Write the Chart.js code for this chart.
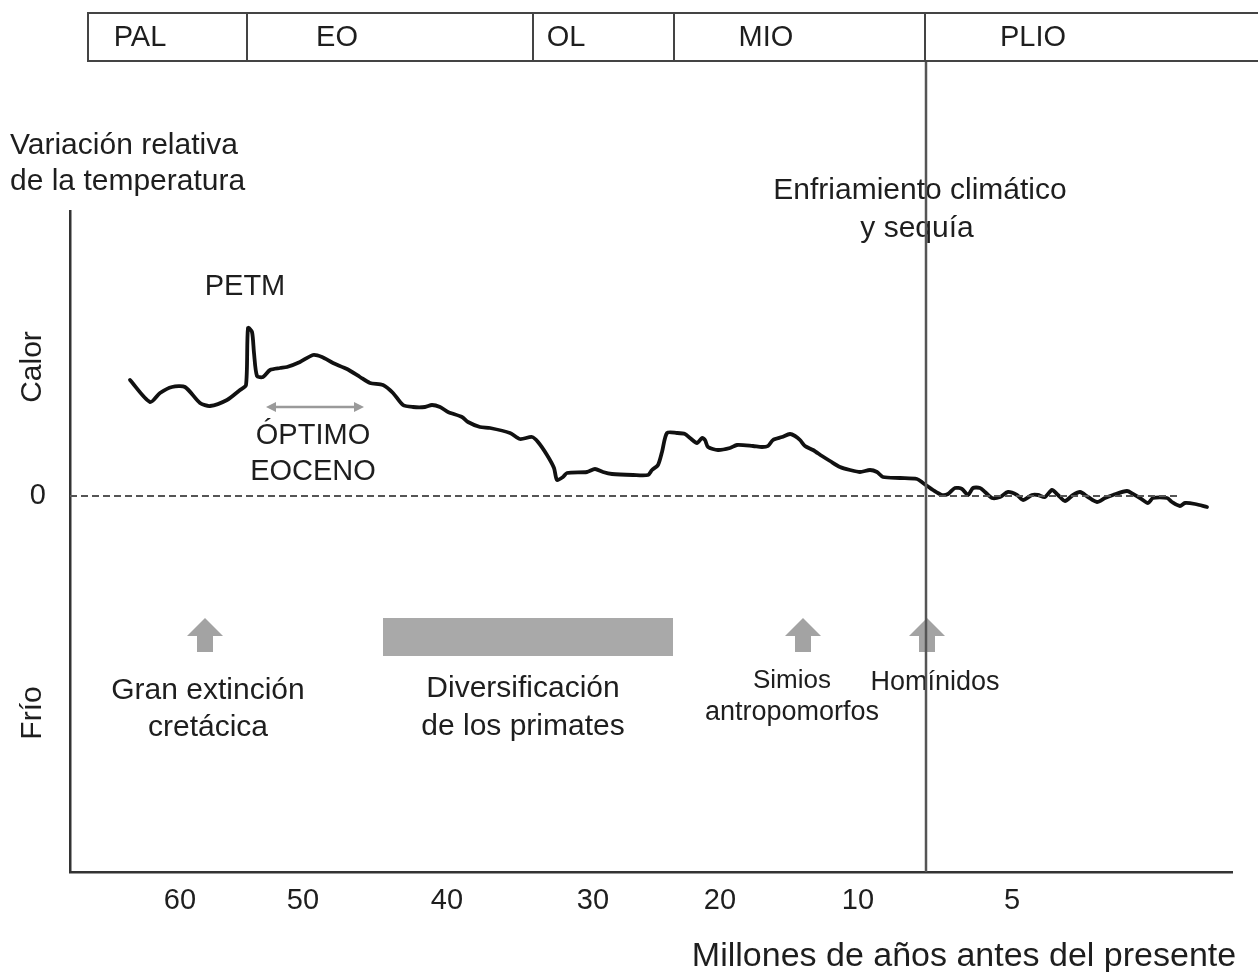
<!DOCTYPE html>
<html><head><meta charset="utf-8">
<script src="https://cdn.jsdelivr.net/npm/chart.js@4"></script>
<style>html,body{margin:0;padding:0;background:#fff}#wrap{width:1258px;height:972px;position:relative}</style>
</head><body><div id="wrap"><canvas id="c" width="1258" height="972"></canvas></div>
<script>
// Relative temperature curve (x: schematic position along time axis, y: relative temperature)
const curveX=[6.0,8.0,9.0,10.2,11.5,13.0,14.0,15.7,17.0,17.6,17.8,18.2,18.4,18.7,19.3,20.0,21.0,21.7,23.0,24.3,25.2,26.3,27.7,29.0,30.0,31.3,32.3,33.3,34.3,35.5,36.2,37.0,37.8,39.2,39.8,41.0,42.0,44.0,45.0,46.2,46.8,47.7,48.4,48.7,49.3,49.7,51.7,52.5,53.3,54.2,56.3,57.8,58.2,58.8,59.2,59.7,60.7,61.5,62.0,62.7,63.2,63.5,63.8,64.8,66.0,66.7,68.3,69.2,69.8,70.3,71.2,72.0,72.5,73.0,73.5,74.3,75.2,76.0,77.0,78.0,79.0,80.0,80.7,81.3,83.0,84.7,85.3,86.3,87.2,87.8,88.5,89.2,89.8,90.3,91.0,91.5,92.2,93.0,93.8,94.7,95.3,96.2,96.8,97.5,98.2,98.8,99.5,100.3,101.0,101.8,102.7,103.5,104.3,105.7,106.3,107.0,107.8,108.3,109.7,110.2,111.0,111.5,112.5,113.7];
const curveY=[1.16,0.94,1.03,1.09,1.09,0.93,0.90,0.96,1.06,1.11,1.68,1.64,1.43,1.20,1.19,1.26,1.28,1.29,1.34,1.41,1.39,1.33,1.27,1.19,1.13,1.11,1.03,0.91,0.89,0.89,0.91,0.89,0.84,0.79,0.74,0.69,0.68,0.63,0.57,0.59,0.54,0.41,0.28,0.16,0.19,0.23,0.24,0.27,0.24,0.22,0.21,0.21,0.26,0.31,0.44,0.63,0.63,0.62,0.58,0.53,0.58,0.56,0.49,0.46,0.48,0.51,0.50,0.49,0.50,0.56,0.59,0.62,0.60,0.56,0.50,0.46,0.40,0.35,0.29,0.26,0.24,0.26,0.24,0.19,0.18,0.17,0.13,0.06,0.01,0.02,0.08,0.07,0.01,0.08,0.08,0.04,-0.02,-0.01,0.04,0.01,-0.04,0.01,0.01,-0.01,0.06,0.01,-0.05,0.01,0.04,-0.01,-0.06,-0.02,0.01,0.05,0.02,-0.02,-0.07,-0.02,-0.02,-0.06,-0.10,-0.07,-0.08,-0.11];
// Zero reference line
const zeroX=[0,110.8];
const zeroY=[0,0];
// Time axis tick labels (millions of years before present) and their positions
const tickPos=[11.0,23.3,37.7,52.3,65.0,78.8,94.2];
const tickLabels=['60','50','40','30','20','10','5'];
// Epochs
const epochNames=['PAL','EO','OL','MIO','PLIO'];
const epochLabelPos=[7.0,26.7,49.6,69.6,96.3];
const epochBounds=[1.8,17.7,46.3,60.4,85.5,120];
// Events
const coolingPos=85.6;
const primateRange=[31.3,60.3];
const arrowPos=[13.5,73.3,85.7];

const FONT='"Liberation Sans", Arial, Helvetica, sans-serif';
const TXT='#1e1e1e';

const annot={
  id:'annot',
  afterDatasetsDraw(chart){
    const {ctx,scales:{x,y},chartArea:ca}=chart;
    const X=v=>x.getPixelForValue(v);
    ctx.save();
    ctx.fillStyle=TXT;ctx.textBaseline='middle';
    function t(s,px,py,size,align){ctx.font=size+'px '+FONT;ctx.textAlign=align||'center';ctx.fillText(s,px,py);}
    // axis titles
    t('Variación relativa',10,146,30,'left');
    t('de la temperatura',10,182,30,'left');
    ctx.save();ctx.translate(33,367);ctx.rotate(-Math.PI/2);t('Calor',0,0,30);ctx.restore();
    ctx.save();ctx.translate(33,713);ctx.rotate(-Math.PI/2);t('Frío',0,0,30);ctx.restore();
    t('Millones de años antes del presente',964,957,34);
    // curve labels
    t('PETM',245,287,29);
    t('ÓPTIMO',313,436,29);
    t('EOCENO',313,472,29);
    t('Enfriamiento climático',920,191,30);
    t('y sequía',917,229,30);
    // double arrow (Eocene optimum)
    ctx.strokeStyle='#9a9a9a';ctx.fillStyle='#9a9a9a';ctx.lineWidth=2.5;
    ctx.beginPath();ctx.moveTo(272,407);ctx.lineTo(358,407);ctx.stroke();
    ctx.beginPath();ctx.moveTo(266,407);ctx.lineTo(276,402);ctx.lineTo(276,412);ctx.closePath();ctx.fill();
    ctx.beginPath();ctx.moveTo(364,407);ctx.lineTo(354,402);ctx.lineTo(354,412);ctx.closePath();ctx.fill();
    // primates bar
    ctx.fillStyle='#a9a9a9';
    ctx.fillRect(X(primateRange[0]),618,X(primateRange[1])-X(primateRange[0]),38);
    // up arrows
    ctx.fillStyle='#a3a3a3';
    arrowPos.forEach(p=>{const cx=X(p);ctx.beginPath();ctx.moveTo(cx-18,636);ctx.lineTo(cx,618);ctx.lineTo(cx+18,636);ctx.lineTo(cx+8,636);ctx.lineTo(cx+8,652);ctx.lineTo(cx-8,652);ctx.lineTo(cx-8,636);ctx.closePath();ctx.fill();});
    ctx.fillStyle=TXT;
    t('Gran extinción',208,691,30);
    t('cretácica',208,728,30);
    t('Diversificación',523,689,30);
    t('de los primates',523,727,30);
    t('Simios',792,681,26);
    t('antropomorfos',792,713,27);
    t('Homínidos',935,683,27);
    // cooling vertical line
    ctx.strokeStyle='#555';ctx.lineWidth=2.5;
    ctx.beginPath();ctx.moveTo(X(coolingPos),62);ctx.lineTo(X(coolingPos),ca.bottom);ctx.stroke();
    // epoch box
    ctx.strokeStyle='#444';ctx.lineWidth=2;
    const x0=X(epochBounds[0]);
    ctx.beginPath();ctx.moveTo(1262,13);ctx.lineTo(x0,13);ctx.lineTo(x0,61);ctx.lineTo(1262,61);ctx.stroke();
    for(let i=1;i<epochBounds.length-1;i++){const bx=X(epochBounds[i]);ctx.beginPath();ctx.moveTo(bx,13);ctx.lineTo(bx,61);ctx.stroke();}
    ctx.fillStyle=TXT;
    epochNames.forEach((n,i)=>t(n,X(epochLabelPos[i]),38,29));
    ctx.restore();
  }
};

new Chart(document.getElementById('c'),{
  type:'line',
  data:{datasets:[
    {data:zeroX.map((v,i)=>({x:v,y:zeroY[i]})),borderColor:'#555',borderWidth:2,borderDash:[7,4],pointRadius:0,tension:0},
    {data:curveX.map((v,i)=>({x:v,y:curveY[i]})),borderColor:'#111',borderWidth:3.8,pointRadius:0,tension:0.25,borderJoinStyle:'round',borderCapStyle:'round'}
  ]},
  options:{
    responsive:false,animation:false,devicePixelRatio:1,
    layout:{padding:{top:211,right:26,left:0,bottom:0}},
    plugins:{legend:{display:false},tooltip:{enabled:false}},
    scales:{
      x:{type:'linear',min:0,max:116.2,
        afterFit(s){s.height=100;},
        afterBuildTicks(s){s.ticks=tickPos.map(v=>({value:v}));},
        grid:{display:false,drawTicks:false},
        border:{display:true,color:'#333',width:2.5},
        ticks:{padding:12,autoSkip:false,maxRotation:0,color:TXT,font:{size:29,family:FONT},
          callback(v){const i=tickPos.indexOf(v);return i>=0?tickLabels[i]:'';}}
      },
      y:{type:'linear',min:-3.76,max:2.85,
        afterFit(s){s.width=70;},
        afterBuildTicks(s){s.ticks=[{value:0}];},
        grid:{display:false,drawTicks:false},
        border:{display:true,color:'#333',width:2.5},
        ticks:{padding:24,color:TXT,font:{size:29,family:FONT},callback(){return '0';}}
      }
    }
  },
  plugins:[annot]
});
</script></body></html>
